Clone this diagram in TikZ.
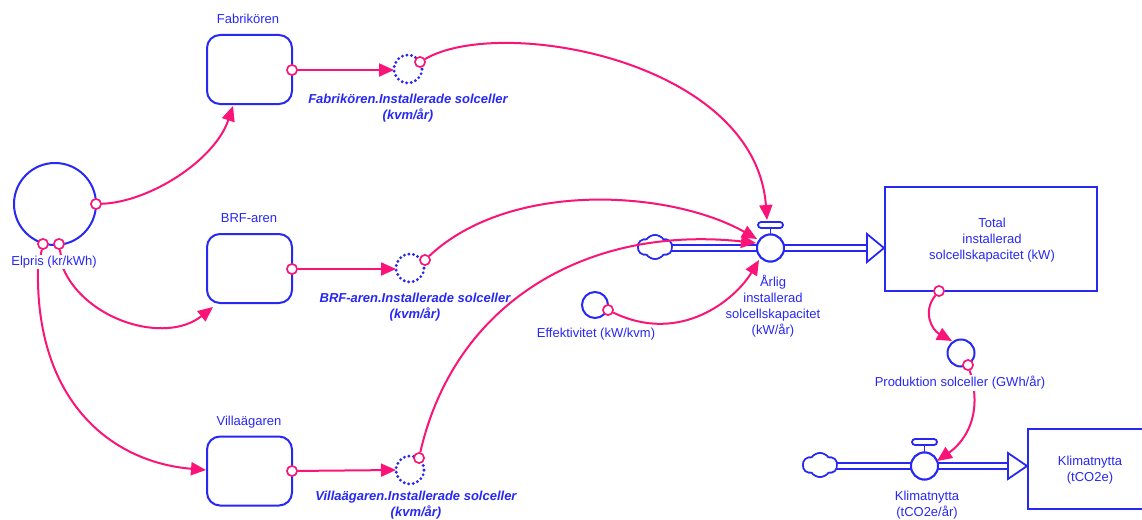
\documentclass[tikz,border=0pt]{standalone}
\usepackage{fontspec}
\setmainfont{Liberation Sans}
\usetikzlibrary{arrows.meta,shapes.symbols}
\definecolor{vb}{RGB}{40,40,245}
\definecolor{vp}{RGB}{250,20,120}
\begin{document}
\begin{tikzpicture}[x=1pt,y=-1pt,
  lbl/.style={text=vb,font=\fontsize{13}{16}\selectfont,align=center,inner sep=0},
  blbl/.style={text=vb,font=\fontsize{13}{16}\selectfont\bfseries\itshape,align=center,inner sep=0},
  stockbox/.style={draw=vb,line width=2pt,rounded corners=13pt,fill=white,minimum width=85pt,minimum height=69pt,inner sep=0},
  levelbox/.style={draw=vb,line width=2pt,fill=white,inner sep=0},
  aux/.style={circle,draw=vb,line width=2pt,fill=white,inner sep=0},
  dotaux/.style={circle,draw=vb,line width=3.2pt,dash pattern=on 0pt off 4.6pt,line cap=round,inner sep=0,minimum size=28pt},
  tap/.style={circle,draw=vp,line width=1.5pt,fill=white,inner sep=0,minimum size=10pt},
  link/.style={draw=vp,line width=2pt,-{Triangle[length=15pt,width=13pt]}},
  pipe/.style={draw=vb,line width=1.8pt,double=white,double distance=3.6pt},
  hollowtip/.style={draw=vb,line width=1.8pt,fill=white,line join=miter},
  handle/.style={draw=vb,line width=1.8pt,fill=white,rounded corners=3pt},
  cloudshape/.style={cloud,cloud puffs=6,cloud puff arc=110,draw=vb,line width=1.6pt,fill=white,minimum width=34pt,minimum height=24pt,inner sep=0}
]
\path[use as bounding box] (0,0) rectangle (1142,519);
\clip (0,0) rectangle (1142,519);

% ---------- stocks ----------
\node[stockbox] (fab) at (249.5,69.5) {};
\node[stockbox] (brf) at (249.5,268.5) {};
\node[stockbox] (villa) at (249.5,471) {};
\node[lbl] (fabL) at (248,19) {Fabrikören};
\node[lbl] (brfL) at (249,218) {BRF-aren};
\node[lbl] (villaL) at (249,422) {Villaägaren};

\node[levelbox,minimum width=212pt,minimum height=104pt] (total) at (991,239) {};
\node[lbl] (totalL) at (992,240) {Total\\installerad\\solcellskapacitet (kW)};
\node[levelbox,minimum width=124pt,minimum height=80pt] (klim) at (1090,469) {};
\node[lbl] (klimL) at (1090,470) {Klimatnytta\\(tCO2e)};

% ---------- auxiliaries ----------
\node[aux,minimum size=82pt] (elpris) at (55,204) {};
\node[aux,minimum size=26pt] (eff) at (595,305) {};
\node[lbl] (effL) at (596,334) {Effektivitet (kW/kvm)};
\node[aux,minimum size=27pt] (prod) at (961,353) {};

\node[dotaux] (dfab) at (408,69) {};
\node[dotaux] (dbrf) at (410,268) {};
\node[dotaux] (dvilla) at (410,470) {};
\node[blbl] (dfabL) at (408,108) {Fabrikören.Installerade solceller\\(kvm/år)};
\node[blbl] (dbrfL) at (415,307.5) {BRF-aren.Installerade solceller\\(kvm/år)};
\node[blbl] (dvillaL) at (416,505) {Villaägaren.Installerade solceller\\(kvm/år)};

% ---------- flows ----------
\node[cloudshape] (cl1) at (655,247) {};
\node[cloudshape] (cl2) at (820,465) {};
\node[aux,minimum size=27pt] (valve1) at (770.5,248) {};
\node[aux,minimum size=27pt] (valve2) at (924.5,466) {};
\coordinate (tip1) at (867,248);
\coordinate (tip2) at (1008,466);

\draw[pipe] (cl1.center |- valve1) -- (valve1.center);
\draw[pipe] (valve1.center) -- (tip1);
\draw[hollowtip] ([yshift=-14pt]tip1) -- (total.west |- tip1) -- ([yshift=14pt]tip1) -- cycle;
\draw[pipe] (cl2.center |- valve2) -- (valve2.center);
\draw[pipe] (valve2.center) -- (tip2);
\draw[hollowtip] ([yshift=-13pt]tip2) -- (klim.west |- tip2) -- ([yshift=13pt]tip2) -- cycle;
\node[cloudshape] at (cl1) {};
\node[cloudshape] at (cl2) {};
\node[aux,minimum size=27pt] at (valve1) {};
\node[aux,minimum size=27pt] at (valve2) {};
\draw[vb,line width=1.8pt] (valve1.north) -- ++(0,-7);
\draw[handle] (758,222) rectangle (783,228);
\draw[vb,line width=1.8pt] (valve2.north) -- ++(0,-8);
\draw[handle] (912,439) rectangle (937,445);

\node[lbl] (valve1L) at (773,306) {Årlig\\installerad\\solcellskapacitet\\(kW/år)};
\node[lbl] (valve2L) at (927,505) {Klimatnytta\\(tCO2e/år)};

% ---------- taps ----------
\node[tap] (tE1) at (96,204) {};
\node[tap] (tE2) at (59,244) {};
\node[tap] (tE3) at (43,244) {};
\node[tap] (tfab) at (292,70) {};
\node[tap] (tbrf) at (292,269) {};
\node[tap] (tvilla) at (292,471) {};
\node[tap] (tdfab) at (420,62) {};
\node[tap] (tdbrf) at (425,260) {};
\node[tap] (tdvilla) at (419,458) {};
\node[tap] (teff) at (608,310) {};
\node[tap] (ttotal) at (939,291) {};
\node[tap] (tprod) at (968,365) {};

% ---------- connector end points ----------
\coordinate (inFab) at (233,106);
\coordinate (inBrf) at (213,307);
\coordinate (inVilla) at (206,470);
\coordinate (inDfab) at (394,70);
\coordinate (inDbrf) at (396,269);
\coordinate (inDvilla) at (396,470);
\coordinate (inV1a) at (767,220);
\coordinate (inV1b) at (757,239);
\coordinate (inV1c) at (756,243);
\coordinate (inV1d) at (759,260);
\coordinate (inProd) at (952,341);
\coordinate (inV2) at (937,461);
\coordinate (sE2) at (63,268);
\coordinate (sE3) at (38,268);

% ---------- connectors ----------
\draw[link] (tE1) .. controls (150,202) and (215,160) .. (inFab);
\draw[vp,line width=2pt] (tE2) -- (sE2);
\draw[vp,line width=2pt] (tE3) -- (sE3);
\draw[link] (sE2) .. controls (85,320) and (165,345) .. (inBrf);
\draw[link] (sE3) .. controls (35,400) and (110,462) .. (inVilla);
\draw[link] (tfab) -- (inDfab);
\draw[link] (tbrf) -- (inDbrf);
\draw[link] (tvilla) -- (inDvilla);
\draw[link] (tdfab) .. controls (500,15) and (755,60) .. (inV1a);
\draw[link] (tdbrf) .. controls (510,180) and (670,190) .. (inV1b);
\draw[link] (tdvilla) .. controls (455,300) and (590,225) .. (inV1c);
\draw[link] (teff) .. controls (680,345) and (735,300) .. (inV1d);
\draw[link] (ttotal) .. controls (922,312) and (932,330) .. (inProd);
\draw[link] (tprod) .. controls (985,420) and (960,445) .. (inV2);

% labels over connectors, taps on top
\node[lbl,fill=white,inner ysep=1pt] (elprisL) at (54,262) {Elpris (kr/kWh)};
\node[lbl,fill=white,inner ysep=1pt] (prodL) at (960,383) {Produktion solceller (GWh/år)};
\foreach \t in {tE1,tE2,tE3,tfab,tbrf,tvilla,tdfab,tdbrf,tdvilla,teff,ttotal,tprod}
  \node[tap] at (\t) {};
\end{tikzpicture}
\end{document}
